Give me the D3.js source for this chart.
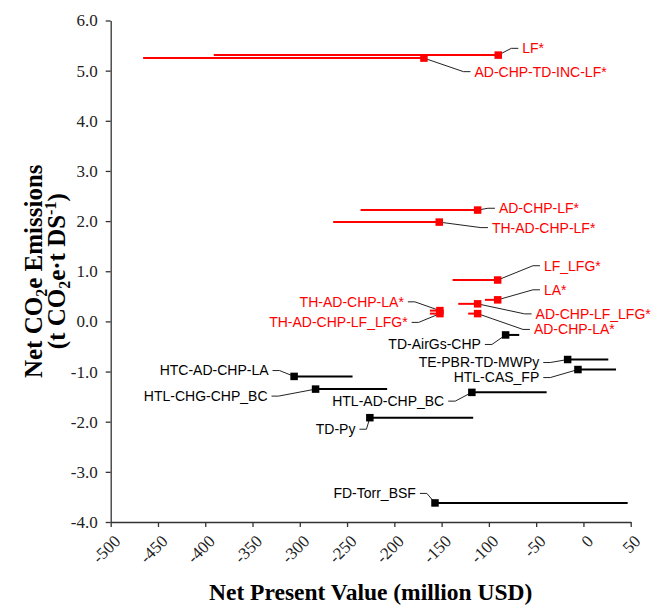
<!DOCTYPE html>
<html>
<head>
<meta charset="utf-8">
<script src="https://cdn.jsdelivr.net/npm/d3@7"></script>
<style>
  body { margin: 0; background: #fff; }
  svg { display: block; }
</style>
</head>
<body>
<div id="chart"></div>
<script>
// pathway names (asterisk = shown in red)
const names = ["LF*", "AD-CHP-TD-INC-LF*", "AD-CHP-LF*", "TH-AD-CHP-LF*", "LF_LFG*", "LA*",
    "AD-CHP-LF_LFG*", "AD-CHP-LA*", "TH-AD-CHP-LA*", "TH-AD-CHP-LF_LFG*", "TD-AirGs-CHP",
    "TE-PBR-TD-MWPy", "HTL-CAS_FP", "HTC-AD-CHP-LA", "HTL-CHG-CHP_BC", "HTL-AD-CHP_BC",
    "TD-Py", "FD-Torr_BSF"]
// net present value (million USD) and net emissions
const npv = [-90.1, -168.7, -111.9, -152.5, -90.7, -90.7, -111.9, -111.9, -151.8, -151.8, -82.3,
    -16.7, -5.8, -306, -283.3, -118, -225.9, -157]
const co2 = [5.31, 5.25, 2.22, 1.98, 0.825, 0.43, 0.35, 0.155, 0.215, 0.155, -0.27,
    -0.76, -0.96, -1.097, -1.35, -1.415, -1.92, -3.62]
// npv range
const npvLow = [-391, -465.7, -235.7, -264.7, -138.4, -104.2, -132.4, -121.9, -162.4, -162.4, -82.3,
    -16.7, -5.8, -306, -283.3, -118, -225.9, -157]
const npvHigh = [-90.1, -168.7, -111.9, -152.5, -90.7, -90.7, -111.9, -111.9, -151.8, -151.8, -67.9,
    26.3, 34.5, -244.2, -207.6, -38.9, -116.6, 46.8]
// where each label leader ends (data units) and which side the text sits
const labelNpv = [-68.9, -119.5, -93.6, -101, -46, -46, -54.8, -56.6, -185.7, -181.7, -104.2,
    -42.5, -42.5, -328.8, -329.9, -143, -236.9, -173]
const labelCo2 = [5.445, 4.98, 2.256, 1.87, 1.11, 0.63, 0.15, -0.16, 0.39, -0.02, -0.46,
    -0.82, -1.12, -0.98, -1.49, -1.59, -2.15, -3.43]
const labelSide = ["start", "start", "start", "start", "start", "start", "start", "start", "end", "end", "end",
    "end", "end", "end", "end", "end", "end", "end"]

const xTicks = [-500, -450, -400, -350, -300, -250, -200, -150, -100, -50, 0, 50]
const yTicks = [-4, -3, -2, -1, 0, 1, 2, 3, 4, 5, 6]

const width = 655
const height = 605
const mLeft = 110.7, mRight = 630.7, mTop = 20.5, mBottom = 522

const svg = d3.select("#chart")
    .append("svg")
    .attr("width", width)
    .attr("height", height)

const x = d3.scaleLinear().domain([-500, 50]).range([mLeft, mRight])
const y = d3.scaleLinear().domain([-4, 6]).range([mBottom, mTop])

const fmtY = (d) => d3.format(".1f")(d).replace("\u2212", "-")
const fmtX = (d) => String(d)

const serif = "'Liberation Serif', 'Times New Roman', serif"
const sans = "'Liberation Sans', Arial, sans-serif"

// axes
const yAxis = svg.append("g")
    .attr("transform", "translate(" + mLeft + ",0)")
    .call(d3.axisLeft(y).tickValues(yTicks).tickFormat(fmtY).tickSize(5).tickSizeOuter(0).tickPadding(8))
yAxis.selectAll("text").attr("font-family", serif).attr("font-size", "17px").attr("fill", "#222")

const xAxis = svg.append("g")
    .attr("transform", "translate(0," + mBottom + ")")
    .call(d3.axisBottom(x).tickValues(xTicks).tickFormat(fmtX).tickSize(5).tickSizeOuter(0))
xAxis.selectAll("text")
    .attr("font-family", serif)
    .attr("font-size", "17px")
    .attr("fill", "#222")
    .attr("text-anchor", "end")
    .attr("y", 0)
    .attr("dy", "0.35em")
    .attr("transform", "translate(6,16) rotate(-45)")

svg.selectAll(".domain, .tick line").attr("stroke", "#333").attr("stroke-width", 1.3)

// axis titles
svg.append("text")
    .attr("x", (mLeft + mRight) / 2)
    .attr("y", 600)
    .attr("text-anchor", "middle")
    .attr("font-family", serif)
    .attr("font-weight", "bold")
    .attr("font-size", "23.5px")
    .text("Net Present Value (million USD)")

const yTitle = svg.append("text")
    .attr("transform", "translate(42," + ((mTop + mBottom) / 2) + ") rotate(-90)")
    .attr("text-anchor", "middle")
    .attr("font-family", serif)
    .attr("font-weight", "bold")
    .attr("font-size", "25px")
yTitle.append("tspan").text("Net CO")
yTitle.append("tspan").attr("font-size", "16px").attr("dy", 5).text("2")
yTitle.append("tspan").attr("dy", -5).text("e Emissions")

const yTitle2 = svg.append("text")
    .attr("transform", "translate(65," + ((mTop + mBottom) / 2) + ") rotate(-90)")
    .attr("text-anchor", "middle")
    .attr("font-family", serif)
    .attr("font-weight", "bold")
    .attr("font-size", "25px")
yTitle2.append("tspan").text("(t CO")
yTitle2.append("tspan").attr("font-size", "16px").attr("dy", 5).text("2")
yTitle2.append("tspan").attr("dy", -5).text("e\u00b7t DS")
yTitle2.append("tspan").attr("font-size", "16px").attr("dy", -9).text("-1")
yTitle2.append("tspan").attr("dy", 9).text(")")

const rows = names.map((n, i) => ({
    name: n, npv: npv[i], co2: co2[i], lo: npvLow[i], hi: npvHigh[i],
    lx: labelNpv[i], ly: labelCo2[i], side: labelSide[i],
    color: n.endsWith("*") ? "#ff0000" : "#000000"
}))

// leader lines
svg.append("g").selectAll("path")
    .data(rows)
    .enter()
    .append("path")
    .attr("fill", "none")
    .attr("stroke", "#222")
    .attr("stroke-width", 1)
    .attr("d", (e) => {
        const ex = x(e.lx) + (e.side == "start" ? -7 : 7)
        return "M" + x(e.npv) + "," + y(e.co2) + " L" + ex + "," + y(e.ly) + " L" + x(e.lx) + "," + y(e.ly)
    })

// range lines
svg.append("g").selectAll("line")
    .data(rows)
    .enter()
    .append("line")
    .attr("x1", (e) => x(e.lo))
    .attr("x2", (e) => x(e.hi))
    .attr("y1", (e) => y(e.co2))
    .attr("y2", (e) => y(e.co2))
    .attr("stroke", (e) => e.color)
    .attr("stroke-width", 2)

// markers
const sq = 7.5
svg.append("g").selectAll("rect")
    .data(rows)
    .enter()
    .append("rect")
    .attr("x", (e) => x(e.npv) - sq / 2)
    .attr("y", (e) => y(e.co2) - sq / 2)
    .attr("width", sq)
    .attr("height", sq)
    .attr("fill", (e) => e.color)

// labels
svg.append("g").selectAll("text")
    .data(rows)
    .enter()
    .append("text")
    .attr("x", (e) => x(e.lx) + (e.side == "start" ? 4 : -4))
    .attr("y", (e) => y(e.ly))
    .attr("dy", "0.35em")
    .attr("text-anchor", (e) => e.side)
    .attr("font-family", sans)
    .attr("font-size", "14px")
    .attr("fill", (e) => e.color)
    .text((e) => e.name)
</script>
</body>
</html>
